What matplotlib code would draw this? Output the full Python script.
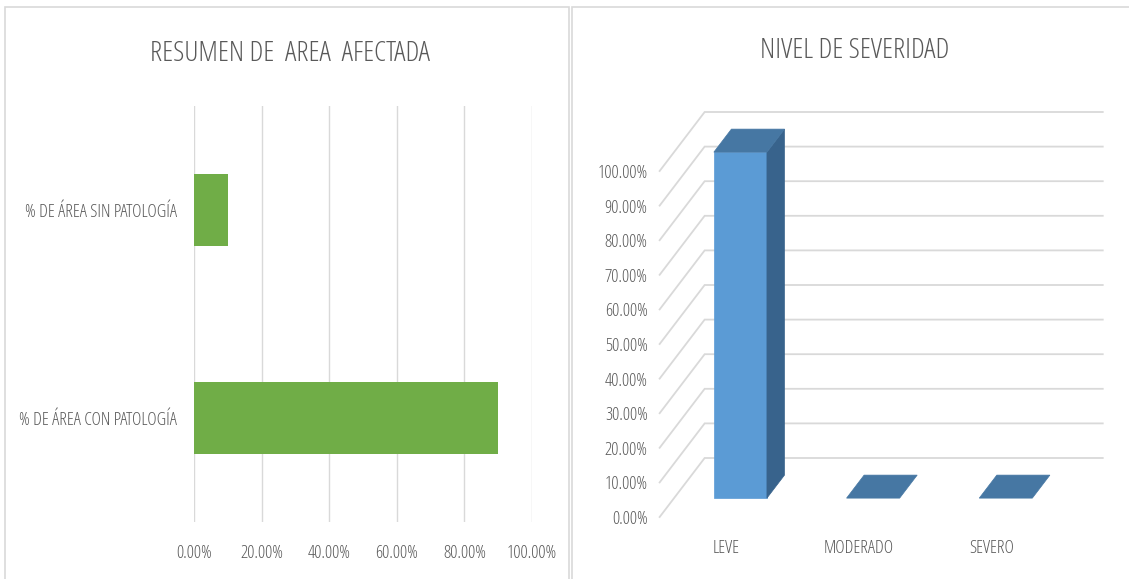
import matplotlib
matplotlib.use("Agg")
import matplotlib.pyplot as plt
from matplotlib.patches import Rectangle, Polygon

plt.rcParams['font.family'] = ['Open Sans', 'DejaVu Sans']
plt.rcParams['font.stretch'] = 'condensed'
plt.rcParams['font.weight'] = 300

# ---- data ----
area_categories = ['% DE ÁREA CON PATOLOGÍA', '% DE ÁREA SIN PATOLOGÍA']
area_values = [0.90, 0.10]
area_ticks = [0.0, 0.2, 0.4, 0.6, 0.8, 1.0]

sev_categories = ['LEVE', 'MODERADO', 'SEVERO']
sev_values = [1.00, 0.0, 0.0]
sev_ticks = [0.0, 0.1, 0.2, 0.3, 0.4, 0.5, 0.6, 0.7, 0.8, 0.9, 1.0]

title_left = 'RESUMEN DE  AREA  AFECTADA'
title_right = 'NIVEL DE SEVERIDAD'

W, H = 1129, 579
TXT = '#595959'
GRID = '#d9d9d9'
FS_TICK = 13
FS_TITLE = 20.5

fig = plt.figure(figsize=(W / 100, H / 100), dpi=100)
fig.patch.set_facecolor('white')

def fr(x0, y0, x1, y1):
    return [x0 / W, 1 - y1 / H, (x1 - x0) / W, (y1 - y0) / H]

# panel borders
for (x0, y0, x1, y1) in [(5, 7, 569, 585), (572, 7, 1140, 585)]:
    fig.add_artist(Rectangle((x0 / W, 1 - y1 / H), (x1 - x0) / W, (y1 - y0) / H,
                             transform=fig.transFigure, fill=False,
                             edgecolor=GRID, lw=1.2))

# ---- left chart ----
ax1 = fig.add_axes(fr(194, 106, 532, 522))
ax1.barh(range(len(area_categories)), area_values, height=0.35, color='#70AD47', zorder=3)
ax1.set_xlim(0, 1)
ax1.set_ylim(-0.5, len(area_categories) - 0.5)
ax1.set_xticks(area_ticks)
ax1.set_xticklabels([f'{t*100:.2f}%' for t in area_ticks])
ax1.set_yticks(range(len(area_categories)))
ax1.set_yticklabels(area_categories)
ax1.grid(axis='x', color=GRID, lw=1, zorder=0)
for s in ax1.spines.values():
    s.set_visible(False)
ax1.tick_params(length=0, labelsize=FS_TICK, colors=TXT)
ax1.tick_params(axis='x', pad=16)
ax1.tick_params(axis='y', pad=12)
fig.text(290 / W, 1 - 54 / H, title_left, ha='center', va='center',
         fontsize=FS_TITLE, color=TXT)

# ---- right chart (3D-style columns, oblique projection) ----
PX_CAT = 132.7     # px per category
PX_VAL = 346.0     # px per 100%
X0, Y0 = 726.0, 517.0  # front-plane pixel of (category 0, value 0)
DX = 45.0 / PX_CAT     # depth offset in data units
DY = 59.0 / PX_VAL
ax_l, ax_r, ax_t, ax_b = 640, 1115, 100, 525
ax2 = fig.add_axes(fr(ax_l, ax_t, ax_r, ax_b))
ax2.set_xlim((ax_l - X0) / PX_CAT, (ax_r - X0) / PX_CAT)
ax2.set_ylim((Y0 - ax_b) / PX_VAL, (Y0 - ax_t) / PX_VAL)
ax2.axis('off')

n = len(sev_categories)
xl, xr = -0.5, n - 0.5
for t in sev_ticks:
    ax2.plot([xl, xl + DX, xr + DX], [t, t + DY, t + DY], color=GRID, lw=1.3,
             zorder=1, solid_joinstyle='miter', clip_on=False)
    ax2.text(xl - 0.09, t - 0.006, f'{t*100:.2f}%', ha='right', va='center',
             fontsize=FS_TICK, color=TXT)

bw = 0.40
d0, d1 = 0.32, 0.71
FRONT, TOP, SIDE = '#5B9BD5', '#4677A3', '#38638C'
for i, (cat, v) in enumerate(zip(sev_categories, sev_values)):
    a, b = i - bw / 2, i + bw / 2
    if v > 0:
        ax2.add_patch(Polygon([(a + d0 * DX, d0 * DY), (b + d0 * DX, d0 * DY),
                               (b + d0 * DX, v + d0 * DY), (a + d0 * DX, v + d0 * DY)],
                              closed=True, facecolor=FRONT, edgecolor=FRONT, lw=0.5, zorder=3))
        ax2.add_patch(Polygon([(b + d0 * DX, d0 * DY), (b + d1 * DX, d1 * DY),
                               (b + d1 * DX, v + d1 * DY), (b + d0 * DX, v + d0 * DY)],
                              closed=True, facecolor=SIDE, edgecolor=SIDE, lw=0.5, zorder=3))
    ax2.add_patch(Polygon([(a + d0 * DX, v + d0 * DY), (b + d0 * DX, v + d0 * DY),
                           (b + d1 * DX, v + d1 * DY), (a + d1 * DX, v + d1 * DY)],
                          closed=True, facecolor=TOP, edgecolor=TOP, lw=0.5, zorder=4))
    ax2.text(i, -31 / PX_VAL, cat, ha='center', va='center', fontsize=FS_TICK, color=TXT)

fig.text(855 / W, 1 - 51 / H, title_right, ha='center', va='center',
         fontsize=FS_TITLE, color=TXT)

fig.savefig('out.png', dpi=100, facecolor='white')
